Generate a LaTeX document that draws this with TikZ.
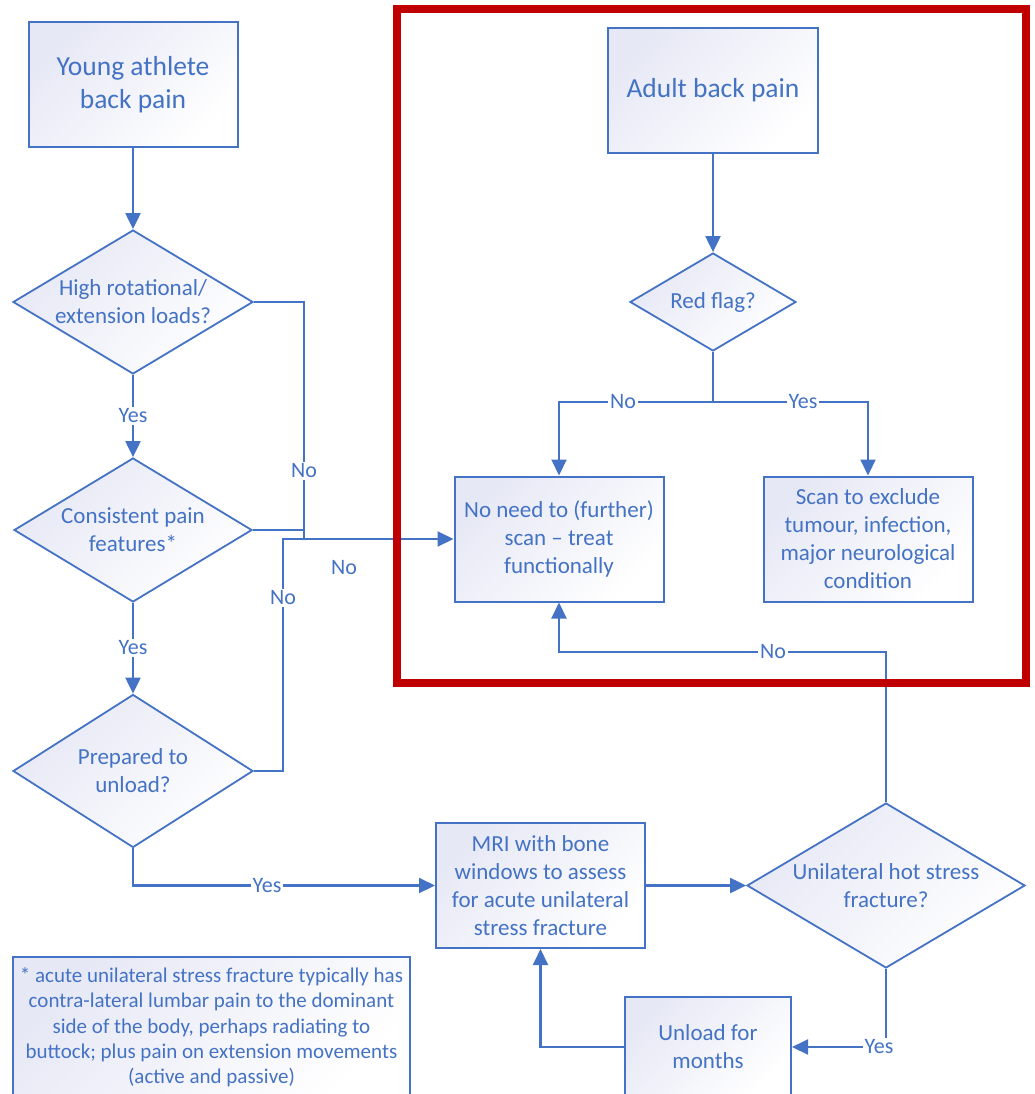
\documentclass[tikz,border=0pt]{standalone}
\usepackage{fontspec}
\setmainfont{Carlito}
\usetikzlibrary{shapes.geometric,arrows.meta}
\definecolor{lb}{HTML}{4472C4}
\definecolor{fillc}{HTML}{E6E8F5}
\definecolor{redc}{HTML}{C00000}
\begin{document}
\begin{tikzpicture}[x=1pt,y=-1pt,
  box/.style={draw=lb, line width=2pt, rectangle, inner sep=0pt,
    top color=fillc, bottom color=white, shading angle=45,
    align=center, text=lb, font=\fontsize{23}{28}\selectfont},
  dia/.style={draw=lb, line width=1.8pt, diamond, inner sep=0pt,
    top color=fillc, bottom color=white, shading angle=45},
  dtext/.style={align=center, text=lb, font=\fontsize{23}{28}\selectfont, inner sep=0pt},
  conn/.style={draw=lb, line width=2.1pt},
  arr/.style={conn, -{Triangle[length=16pt,width=15pt]}},
  lab/.style={fill=white, text=lb, font=\fontsize{22}{26}\selectfont, inner sep=2pt},
]
\clip (0,0) rectangle (1035,1094);
\fill[white] (0,0) rectangle (1035,1094);

% left column
\node[box, minimum width=209, minimum height=125, font=\fontsize{27.5}{33}\selectfont] (young) at (133,84.5) {Young athlete\\back pain};
\node[dia, minimum width=240, minimum height=144] (d1) at (133,302) {};
\node[dtext] (d1t) at (d1.center) {High rotational/\\extension loads?};
\node[dia, minimum width=238, minimum height=144] (d2) at (133,530) {};
\node[dtext] (d2t) at (d2.center) {Consistent pain\\features*};
\node[dia, minimum width=240, minimum height=153] (d3) at (133,771) {};
\node[dtext] (d3t) at (d3.center) {Prepared to\\unload?};

% right part
\node[box, minimum width=210, minimum height=125, font=\fontsize{27.5}{33}\selectfont] (adult) at (713,90.5) {Adult back pain};
\node[dia, minimum width=166, minimum height=98] (rf) at (713,302) {};
\node[dtext] (rft) at (rf.center) {Red flag?};
\node[box, minimum width=209, minimum height=125] (nn) at (559,539) {No need to (further)\\scan – treat\\functionally};
\node[box, minimum width=209, minimum height=125] (scan) at (868,539) {Scan to exclude\\tumour, infection,\\major neurological\\condition};

% bottom
\node[box, minimum width=209, minimum height=125] (mri) at (540.5,885.5) {MRI with bone\\windows to assess\\for acute unilateral\\stress fracture};
\node[dia, minimum width=278, minimum height=165] (d4) at (886,885.5) {};
\node[dtext] (d4t) at (d4.center) {Unilateral hot stress\\fracture?};
\node[box, minimum width=166, minimum height=100] (unload) at (708,1047) {Unload for\\months};
\node[box, minimum width=397, minimum height=141, font=\fontsize{21}{25.3}\selectfont] (note) at (211.5,1027.5) {* acute unilateral stress fracture typically has\\contra-lateral lumbar pain to the dominant\\side of the body, perhaps radiating to\\buttock; plus pain on extension movements\\(active and passive)};

% junctions
\coordinate (j1) at (304,539);
\coordinate (j2) at (283,539);
\coordinate (j3) at (713,402);
\coordinate (j4) at (886,652);

% connectors
\draw[arr] (young.south) -- (d1.north);
\draw[arr] (d1.south) -- (d2.north);
\draw[arr] (d2.south) -- (d3.north);
\draw[conn] (d1.east) -| (j1);
\draw[conn] (d2.east) -- (d2.east -| j1);
\draw[arr] (d3.east) -| (j2) -- (nn.west);
\draw[arr] (adult.south) -- (rf.north);
\draw[conn] (rf.south) -- (j3);
\draw[arr] (j3) -| (nn.north);
\draw[arr] (j3) -| (scan.north);
\draw[arr] (d4.north) -- (d4.north |- j4) -| (nn.south);
\draw[arr] (d3.south) |- (mri.west);
\draw[arr] (mri.east) -- (d4.west);
\draw[arr] (d4.south) |- (unload.east);
\draw[arr] (unload.west) -| (mri.south);

% labels
\node[lab] (l1) at (133,416) {Yes};
\node[lab] (l2) at (133,648) {Yes};
\node[lab] (l3) at (304,471) {No};
\node[lab] (l4) at (283,598) {No};
\node[lab, fill=none] (l5) at (344,568) {No};
\node[lab] (l6) at (623,402) {No};
\node[lab] (l7) at (803,402) {Yes};
\node[lab] (l8) at (773,652) {No};
\node[lab] (l9) at (267,886) {Yes};
\node[lab] (l10) at (879,1047) {Yes};

% red frame
\draw[redc, line width=8pt] (397,9) rectangle (1026,683);
\end{tikzpicture}
\end{document}
